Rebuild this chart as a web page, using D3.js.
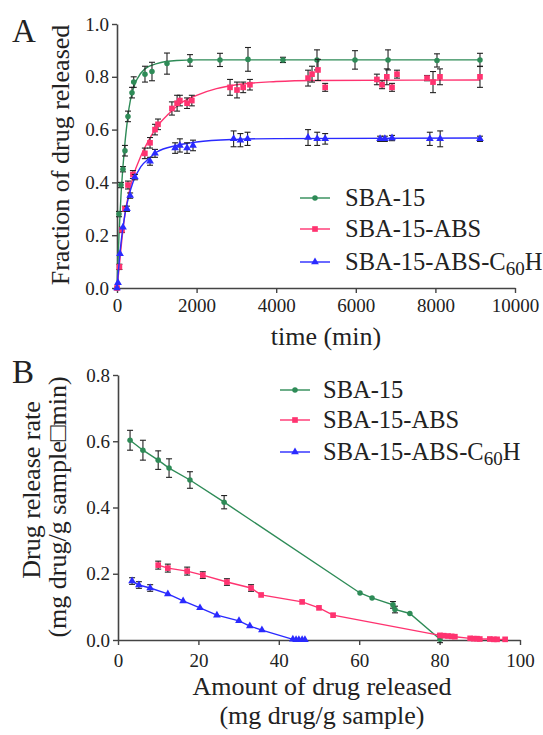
<!DOCTYPE html>
<html>
<head>
<meta charset="utf-8">
<script src="https://cdn.jsdelivr.net/npm/d3@7"></script>
<style>
  body { margin: 0; background: #fff; }
  text { font-family: "Liberation Serif", "Times New Roman", serif; fill: #222; }
</style>
</head>
<body>
<svg id="chart" width="543" height="735"></svg>
<script>
// ---- Panel A: fraction released vs time ----
const seriesNames = ["SBA-15", "SBA-15-ABS", "SBA-15-ABS-C60H"];
const seriesColors = ["#2e8b57", "#ff3370", "#2a2aff"];

const timeGreen = [0, 50, 100, 150, 200, 276, 377, 420, 703, 879, 1256, 1834, 2588, 3291, 4170, 5025, 5980, 6810, 8040, 9120];
const fracGreen = [0, 0.28, 0.39, 0.45, 0.52, 0.65, 0.74, 0.78, 0.81, 0.82, 0.85, 0.862, 0.864, 0.866, 0.864, 0.864, 0.864, 0.864, 0.862, 0.864];
const errGreen  = [0, 0.01, 0.01, 0.01, 0.02, 0.02, 0.02, 0.02, 0.03, 0.035, 0.04, 0.022, 0.025, 0.045, 0.01, 0.038, 0.035, 0.038, 0.025, 0.025];

const timePink = [0, 60, 126, 200, 276, 400, 700, 830, 955, 1030, 1380, 1510, 1580, 1760, 1880, 2840, 3015, 3170, 3340, 4800, 4900, 5050, 5230, 6530, 6660, 6780, 6910, 7035, 7790, 7940, 8115, 9120];
const fracPink = [0, 0.08, 0.22, 0.30, 0.39, 0.43, 0.51, 0.55, 0.60, 0.62, 0.68, 0.70, 0.71, 0.70, 0.71, 0.76, 0.75, 0.76, 0.77, 0.795, 0.81, 0.826, 0.76, 0.79, 0.77, 0.80, 0.76, 0.81, 0.795, 0.78, 0.80, 0.80];
const errPink  = [0, 0.01, 0.01, 0.01, 0.015, 0.015, 0.02, 0.02, 0.02, 0.02, 0.025, 0.03, 0.02, 0.02, 0.02, 0.03, 0.03, 0.02, 0.02, 0.03, 0.03, 0.04, 0.015, 0.02, 0.015, 0.03, 0.015, 0.015, 0.01, 0.04, 0.03, 0.04];

const timeBlue = [0, 25, 75, 150, 250, 330, 450, 830, 955, 1460, 1580, 1760, 1910, 2930, 3100, 3280, 4800, 5030, 5230, 6610, 6730, 6910, 7860, 8120, 9120];
const fracBlue = [0, 0.02, 0.13, 0.23, 0.30, 0.35, 0.42, 0.48, 0.51, 0.53, 0.54, 0.53, 0.54, 0.565, 0.56, 0.565, 0.57, 0.565, 0.565, 0.565, 0.565, 0.568, 0.565, 0.565, 0.565];
const errBlue  = [0, 0, 0, 0, 0.01, 0.01, 0.01, 0.015, 0.015, 0.02, 0.025, 0.02, 0.02, 0.03, 0.025, 0.025, 0.03, 0.025, 0.02, 0.01, 0.01, 0.01, 0.025, 0.03, 0.01];

// fitted curves
const fitTimeGreen = [0, 50, 100, 150, 200, 250, 300, 400, 500, 700, 1000, 1500, 2000, 3000, 9120];
const fitGreen     = [0, 0.2, 0.35, 0.46, 0.55, 0.62, 0.68, 0.75, 0.79, 0.83, 0.85, 0.862, 0.864, 0.864, 0.864];
const fitTimePink  = [0, 50, 100, 200, 300, 400, 600, 800, 1000, 1300, 1600, 2000, 2500, 3000, 4000, 5000, 9120];
const fitPink      = [0, 0.07, 0.15, 0.28, 0.36, 0.42, 0.50, 0.56, 0.61, 0.66, 0.70, 0.73, 0.755, 0.77, 0.782, 0.786, 0.788];
const fitTimeBlue  = [0, 50, 100, 200, 300, 400, 600, 800, 1000, 1500, 2000, 3000, 4000, 9120];
const fitBlue      = [0, 0.09, 0.17, 0.28, 0.35, 0.40, 0.46, 0.49, 0.515, 0.54, 0.553, 0.563, 0.566, 0.568];

const ticksTime = [0, 2000, 4000, 6000, 8000, 10000];
const ticksFrac = [0, 0.2, 0.4, 0.6, 0.8, 1.0];

// ---- Panel B: release rate vs amount released ----
const amtGreen  = [3.0, 6.2, 10, 12.7, 17.9, 26.4, 60.2, 63.2, 68.4, 68.9, 72.6, 80.1];
const rateGreen = [0.603, 0.573, 0.543, 0.519, 0.483, 0.416, 0.142, 0.127, 0.106, 0.092, 0.08, 0.002];
const errRateGreen = [0.03, 0.03, 0.028, 0.028, 0.025, 0.02, 0, 0, 0.01, 0.01, 0, 0.01];

const amtPink  = [10, 12.4, 17.2, 21.1, 27.1, 33.1, 35.6, 45.8, 50, 53.5, 80.1, 81, 82.1, 83, 83.8, 87.6, 88.5, 89.3, 90, 92.5, 93.5, 94.3, 96.3];
const ratePink = [0.226, 0.217, 0.208, 0.196, 0.175, 0.157, 0.136, 0.115, 0.097, 0.075, 0.014, 0.013, 0.012, 0.011, 0.01, 0.005, 0.004, 0.004, 0.003, 0.003, 0.002, 0.002, 0.002];
const errRatePink = [0.012, 0.012, 0.012, 0.01, 0.01, 0.01, 0, 0, 0, 0, 0.004, 0.004, 0, 0, 0, 0, 0, 0, 0, 0, 0, 0, 0];

const amtBlue  = [3.5, 5.2, 8.0, 12.4, 16.2, 20.4, 24.6, 30.1, 32.8, 35.8, 43.5, 44.3, 45, 45.8, 46.5];
const rateBlue = [0.178, 0.166, 0.157, 0.139, 0.118, 0.097, 0.075, 0.058, 0.042, 0.03, 0.002, 0.001, 0.001, 0.001, 0.001];
const errRateBlue = [0.01, 0.01, 0.01, 0, 0, 0, 0, 0, 0, 0, 0, 0, 0, 0, 0];

const ticksAmt = [0, 20, 40, 60, 80, 100];
const ticksRate = [0, 0.2, 0.4, 0.6, 0.8];

const svg = d3.select("#chart");
const serif = '"Liberation Serif", "Times New Roman", serif';
const axisColor = "#444";
const markerShapes = [d3.symbolCircle, d3.symbolSquare, d3.symbolTriangle];
const markerSizes = [24, 32, 26];

function zip(xs, ys, es) {
    return xs.map((x, i) => ({ x: x, y: ys[i], e: es ? es[i] : 0 }));
}

function styleAxis(g) {
    g.attr("font-family", null);
    g.select(".domain").attr("stroke", axisColor).attr("stroke-width", 1.6);
    g.selectAll(".tick line").attr("stroke", axisColor).attr("stroke-width", 1.4);
    g.selectAll(".tick text").style("font-size", "19px").style("font-family", serif).attr("fill", "#222");
}

function label(g, txt, size) {
    return g.append("text").style("font-family", serif).style("font-size", size + "px").text(txt);
}

function drawSeries(g, x, y, pts, idx, curvePts) {
    const color = seriesColors[idx];
    const line = d3.line().x(d => x(d.x)).y(d => y(d.y));
    if (curvePts) line.curve(d3.curveMonotoneX);
    g.append("path")
        .datum(curvePts || pts)
        .attr("fill", "none")
        .attr("stroke", color)
        .attr("stroke-width", 1.4)
        .attr("d", line);

    // error bars
    const eb = g.append("g").attr("stroke", "#222").attr("stroke-width", 1.1);
    pts.filter(d => d.e > 0).forEach(d => {
        const cx = x(d.x), y1 = y(d.y + d.e), y2 = y(d.y - d.e);
        eb.append("line").attr("x1", cx).attr("x2", cx).attr("y1", y1).attr("y2", y2);
        eb.append("line").attr("x1", cx - 3).attr("x2", cx + 3).attr("y1", y1).attr("y2", y1);
        eb.append("line").attr("x1", cx - 3).attr("x2", cx + 3).attr("y1", y2).attr("y2", y2);
    });

    const sym = d3.symbol().type(markerShapes[idx]).size(markerSizes[idx]);
    g.append("g").selectAll("path")
        .data(pts)
        .join("path")
        .attr("transform", d => `translate(${x(d.x)},${y(d.y)})`)
        .attr("d", sym)
        .attr("fill", color);
}

function drawLegend(g, x0, ys, textX) {
    seriesNames.forEach((name, i) => {
        const yy = ys[i];
        g.append("line").attr("x1", x0).attr("x2", x0 + 30).attr("y1", yy).attr("y2", yy)
            .attr("stroke", seriesColors[i]).attr("stroke-width", 1.4);
        g.append("path")
            .attr("transform", `translate(${x0 + 15},${yy})`)
            .attr("d", d3.symbol().type(markerShapes[i]).size(markerSizes[i]))
            .attr("fill", seriesColors[i]);
        const t = g.append("text").attr("x", textX).attr("y", yy + 8)
            .style("font-family", serif).style("font-size", "24.5px");
        if (name.endsWith("C60H")) {
            t.append("tspan").text("SBA-15-ABS-C");
            t.append("tspan").style("font-size", "19px").attr("dy", 5).text("60");
            t.append("tspan").attr("dy", -5).text("H");
        } else {
            t.text(name);
        }
    });
}

// ===== Panel A =====
const xA = d3.scaleLinear().domain([0, 10000]).range([117, 515]);
const yA = d3.scaleLinear().domain([0, 1]).range([288, 24]);
const gA = svg.append("g");

gA.append("g").attr("transform", "translate(0,288)")
    .call(d3.axisBottom(xA).tickValues(ticksTime).tickFormat(d3.format("d")).tickSize(5).tickSizeOuter(0).tickPadding(6))
    .call(styleAxis);
gA.append("g").attr("transform", "translate(117,0)")
    .call(d3.axisLeft(yA).tickValues(ticksFrac).tickFormat(d3.format(".1f")).tickSize(5).tickSizeOuter(0).tickPadding(3))
    .call(styleAxis);

drawSeries(gA, xA, yA, zip(timeGreen, fracGreen, errGreen), 0, zip(fitTimeGreen, fitGreen));
drawSeries(gA, xA, yA, zip(timePink, fracPink, errPink), 1, zip(fitTimePink, fitPink));
drawSeries(gA, xA, yA, zip(timeBlue, fracBlue, errBlue), 2, zip(fitTimeBlue, fitBlue));

drawLegend(gA, 300, [198, 229, 262], 345);

label(gA, "A", 33).attr("x", 12).attr("y", 42);
label(gA, "Fraction of drug released", 26).attr("transform", "translate(69,155) rotate(-90)")
    .attr("text-anchor", "middle");
label(gA, "time (min)", 26).attr("x", 326).attr("y", 345).attr("text-anchor", "middle");

// ===== Panel B =====
const xB = d3.scaleLinear().domain([0, 100]).range([118, 520]);
const yB = d3.scaleLinear().domain([0, 0.8]).range([640, 375]);
const gB = svg.append("g");

gB.append("g").attr("transform", "translate(0,640)")
    .call(d3.axisBottom(xB).tickValues(ticksAmt).tickFormat(d3.format("d")).tickSize(5).tickSizeOuter(0).tickPadding(9))
    .call(styleAxis);
gB.append("g").attr("transform", "translate(118,0)")
    .call(d3.axisLeft(yB).tickValues(ticksRate).tickFormat(d3.format(".1f")).tickSize(5).tickSizeOuter(0).tickPadding(3))
    .call(styleAxis);

drawSeries(gB, xB, yB, zip(amtGreen, rateGreen, errRateGreen), 0);
drawSeries(gB, xB, yB, zip(amtPink, ratePink, errRatePink), 1);
drawSeries(gB, xB, yB, zip(amtBlue, rateBlue, errRateBlue), 2);

drawLegend(gB, 280, [390, 420, 452], 323);

label(gB, "B", 33).attr("x", 12).attr("y", 383);
label(gB, "Drug release rate", 26).attr("transform", "translate(40,490) rotate(-90)")
    .attr("text-anchor", "middle");
label(gB, "(mg drug/g sample\u25A1min)", 26).attr("transform", "translate(66,507) rotate(-90)")
    .attr("text-anchor", "middle");
label(gB, "Amount of drug released", 26).attr("x", 322).attr("y", 695).attr("text-anchor", "middle");
label(gB, "(mg drug/g sample)", 26).attr("x", 322).attr("y", 724).attr("text-anchor", "middle");
</script>
</body>
</html>
